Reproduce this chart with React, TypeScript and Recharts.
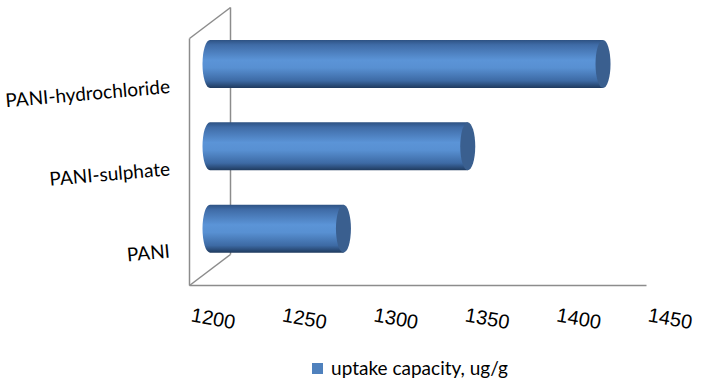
import React from "react";
import { BarChart, Bar, XAxis, YAxis, Legend } from "recharts";

const categories = ["PANI", "PANI-sulphate", "PANI-hydrochloride"];
const uptake = [1273, 1341, 1415];
const xTicks = [1200, 1250, 1300, 1350, 1400, 1450];

const data = categories.map((name, i) => ({ name, uptake: uptake[i] }));

const W = 705;
const H = 392;
const PLOT_LEFT = 210;
const PLOT_RIGHT = 667;
const PLOT_TOP = 23;
const PLOT_BOTTOM = 270;
const DX = 20.5;
const DY = 15.5;
const FRAME = "#8c8c8c";

const Frame = () => (
  <svg width={W} height={H} style={{ position: "absolute", left: 0, top: 0 }}>
    <g stroke={FRAME} strokeWidth={1.5} fill="none">
      <line x1={PLOT_LEFT + DX} y1={PLOT_TOP - DY} x2={PLOT_LEFT + DX} y2={PLOT_BOTTOM - DY} />
      <line x1={PLOT_LEFT - DX} y1={PLOT_TOP + DY} x2={PLOT_LEFT - DX} y2={PLOT_BOTTOM + DY} />
      <line x1={PLOT_LEFT - DX} y1={PLOT_TOP + DY} x2={PLOT_LEFT + DX} y2={PLOT_TOP - DY} />
      <line x1={PLOT_LEFT - DX} y1={PLOT_BOTTOM + DY} x2={PLOT_LEFT + DX} y2={PLOT_BOTTOM - DY} />
      <line x1={PLOT_LEFT - DX} y1={PLOT_BOTTOM + DY} x2={PLOT_RIGHT - DX} y2={PLOT_BOTTOM + DY} />
    </g>
  </svg>
);

const Cylinder = (props: any) => {
  const { x, y, width, height } = props;
  const rx = 7.5;
  const ry = height / 2;
  const cy = y + ry;
  const end = x + width;
  return (
    <g>
      <path
        d={`M ${x} ${y} L ${end} ${y} L ${end} ${y + height} L ${x} ${y + height} A ${rx} ${ry} 0 0 1 ${x} ${y} Z`}
        fill="url(#cylBody)"
      />
      <ellipse cx={end} cy={cy} rx={rx} ry={ry} fill="#3a5f8f" />
    </g>
  );
};

const YTick = (props: any) => {
  const { x, y, payload } = props;
  return (
    <text
      x={x}
      y={y + 24}
      textAnchor="end"
      dominantBaseline="middle"
      transform={`rotate(-5 ${x} ${y + 24})`}
      fontFamily="Lato, 'Open Sans', sans-serif"
      fontSize={19}
      fill="#000"
    >
      {payload.value}
    </text>
  );
};

const XTick = (props: any) => {
  const { x, payload } = props;
  const cx = x + 3;
  const cy = 320;
  return (
    <text
      x={cx}
      y={cy}
      textAnchor="middle"
      dominantBaseline="middle"
      transform={`rotate(10 ${cx} ${cy})`}
      fontFamily="'Liberation Sans', Arial, sans-serif"
      fontSize={20}
      fill="#000"
    >
      {payload.value}
    </text>
  );
};

const LegendContent = () => (
  <div
    style={{
      height: 40,
      display: "flex",
      justifyContent: "center",
      alignItems: "flex-start",
      paddingTop: 5,
      boxSizing: "border-box",
      fontFamily: "Lato, 'Open Sans', sans-serif",
      fontSize: 19,
      color: "#000",
    }}
  >
    <span style={{ display: "inline-block", width: 11, height: 11, background: "#4f81bd", marginRight: 8, marginTop: 6 }} />
    <span style={{ lineHeight: "21px" }}>uptake capacity, ug/g</span>
  </div>
);

export default function App() {
  return (
    <div style={{ position: "absolute", left: 0, top: 0, width: W, height: H, background: "#fff" }}>
      <Frame />
      <div style={{ position: "absolute", left: 0, top: 0 }}>
        <BarChart
          width={W}
          height={H}
          data={data}
          layout="vertical"
          margin={{ top: PLOT_TOP, right: W - PLOT_RIGHT, bottom: 0, left: 0 }}
          barCategoryGap={17}
        >
          <defs>
            <linearGradient id="cylBody" x1="0" y1="0" x2="0" y2="1">
              <stop offset="0%" stopColor="#2e5283" />
              <stop offset="10%" stopColor="#3f6ba6" />
              <stop offset="42%" stopColor="#5b94d7" />
              <stop offset="58%" stopColor="#5890d2" />
              <stop offset="85%" stopColor="#3d6aa4" />
              <stop offset="100%" stopColor="#1f3a5e" />
            </linearGradient>
          </defs>
          <XAxis
            type="number"
            domain={[1200, 1450]}
            ticks={xTicks}
            axisLine={false}
            tickLine={false}
            tickSize={0}
            height={H - PLOT_BOTTOM - 40}
            tick={<XTick />}
            interval={0}
          />
          <YAxis
            type="category"
            dataKey="name"
            reversed
            width={PLOT_LEFT}
            axisLine={false}
            tickLine={false}
            tickSize={0}
            tickMargin={40}
            tick={<YTick />}
          />
          <Legend
            verticalAlign="bottom"
            height={40}
            content={<LegendContent />}
            wrapperStyle={{ left: 310, width: 200 }}
          />
          <Bar dataKey="uptake" name="uptake capacity, ug/g" shape={<Cylinder />} isAnimationActive={false} />
        </BarChart>
      </div>
    </div>
  );
}
